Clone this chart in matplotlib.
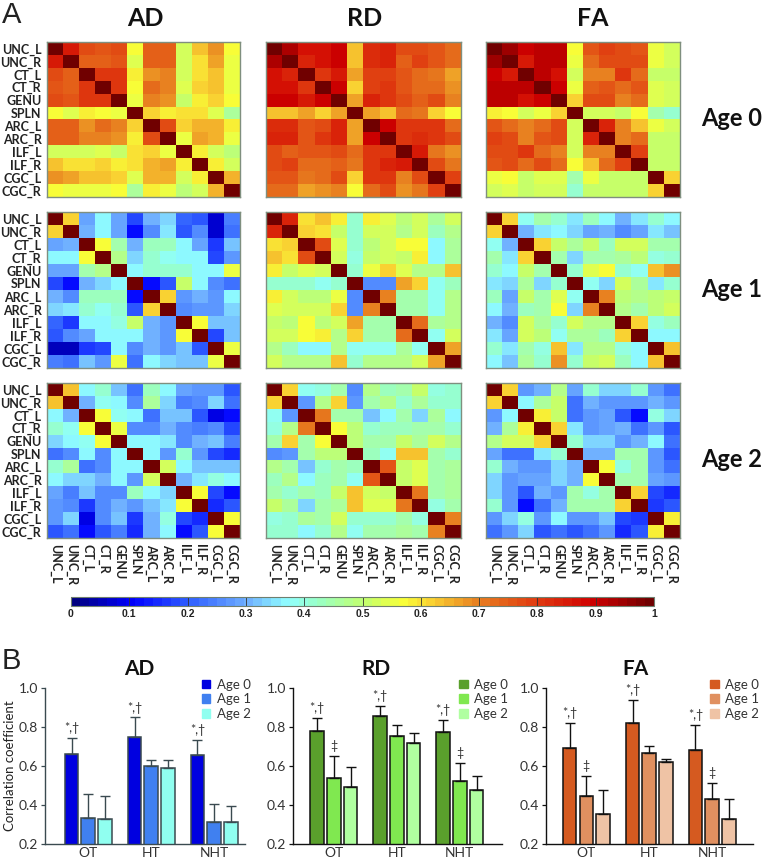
import numpy as np
import matplotlib
matplotlib.use('Agg')
import matplotlib.pyplot as plt
from matplotlib.colors import LinearSegmentedColormap
from matplotlib.patches import Patch

W, H = 762, 860
plt.rcParams['font.family'] = ['Lato', 'DejaVu Sans']

tracts = ['UNC_L', 'UNC_R', 'CT_L', 'CT_R', 'GENU', 'SPLN', 'ARC_L', 'ARC_R', 'ILF_L', 'ILF_R', 'CGC_L', 'CGC_R']

ad_age0 = [
    [1, .85, .78, .75, .78, .57, .74, .74, .52, .64, .68, .57],
    [.85, 1, .74, .74, .76, .54, .74, .74, .52, .60, .67, .56],
    [.78, .74, 1, .80, .80, .58, .68, .70, .52, .60, .64, .56],
    [.75, .74, .80, 1, .80, .57, .72, .69, .54, .62, .63, .56],
    [.78, .76, .80, .80, 1, .55, .70, .68, .51, .58, .62, .57],
    [.57, .54, .58, .57, .55, 1, .62, .58, .60, .60, .54, .46],
    [.74, .74, .68, .72, .70, .62, 1, .78, .61, .65, .65, .59],
    [.74, .74, .70, .69, .68, .58, .78, 1, .55, .67, .65, .56],
    [.52, .52, .52, .54, .51, .60, .61, .55, 1, .58, .53, .49],
    [.64, .60, .60, .62, .58, .60, .65, .67, .58, 1, .58, .53],
    [.68, .67, .64, .63, .62, .54, .65, .65, .53, .58, 1, .65],
    [.57, .56, .56, .56, .57, .46, .59, .56, .49, .53, .65, 1],
]
rd_age0 = [
    [1, .93, .86, .86, .90, .63, .82, .84, .77, .77, .76, .72],
    [.93, 1, .84, .86, .90, .63, .82, .84, .74, .79, .76, .72],
    [.86, .84, 1, .81, .85, .66, .79, .79, .75, .73, .71, .66],
    [.86, .86, .81, 1, .90, .61, .79, .80, .75, .73, .73, .68],
    [.90, .90, .85, .90, 1, .67, .83, .81, .77, .74, .77, .70],
    [.63, .63, .66, .61, .67, 1, .67, .64, .73, .71, .61, .57],
    [.82, .82, .76, .78, .83, .67, 1, .90, .80, .80, .80, .73],
    [.84, .84, .76, .80, .83, .66, .90, 1, .80, .82, .80, .78],
    [.77, .74, .75, .75, .77, .73, .80, .80, 1, .85, .71, .68],
    [.77, .79, .73, .73, .74, .71, .80, .84, .85, 1, .77, .71],
    [.76, .76, .71, .73, .77, .61, .80, .80, .70, .77, 1, .79],
    [.72, .72, .66, .68, .70, .57, .73, .78, .68, .71, .79, 1],
]
fa_age0 = [
    [1, .94, .90, .91, .91, .57, .76, .79, .78, .75, .55, .52],
    [.94, 1, .85, .91, .91, .56, .73, .78, .78, .77, .55, .53],
    [.90, .85, 1, .91, .86, .53, .70, .70, .80, .73, .51, .50],
    [.91, .91, .91, 1, .90, .56, .74, .75, .72, .76, .54, .52],
    [.91, .91, .86, .90, 1, .62, .77, .78, .69, .72, .54, .52],
    [.58, .57, .53, .56, .62, 1, .52, .52, .51, .57, .44, .42],
    [.76, .73, .69, .73, .77, .52, 1, .84, .69, .63, .55, .52],
    [.79, .78, .69, .75, .78, .52, .84, 1, .69, .72, .51, .50],
    [.78, .78, .80, .73, .69, .52, .70, .70, 1, .79, .51, .50],
    [.75, .77, .73, .77, .72, .57, .63, .72, .79, 1, .50, .50],
    [.56, .57, .51, .54, .54, .44, .55, .51, .51, .50, 1, .61],
    [.52, .54, .50, .52, .52, .42, .51, .50, .50, .50, .61, 1],
]
ad_age1 = [
    [1, .62, .29, .36, .29, .18, .31, .34, .21, .19, .07, .24],
    [.62, 1, .31, .36, .29, .12, .26, .35, .20, .25, .07, .23],
    [.29, .31, 1, .57, .44, .31, .43, .43, .36, .29, .17, .32],
    [.36, .36, .57, 1, .47, .33, .42, .38, .36, .36, .18, .28],
    [.29, .29, .44, .47, 1, .36, .41, .42, .41, .37, .36, .55],
    [.18, .12, .31, .33, .36, 1, .12, .19, .50, .36, .25, .22],
    [.31, .26, .43, .43, .43, .12, 1, .61, .28, .30, .28, .36],
    [.34, .35, .42, .38, .41, .19, .61, 1, .26, .28, .28, .34],
    [.21, .17, .36, .36, .40, .50, .31, .28, 1, .57, .32, .32],
    [.19, .25, .29, .36, .36, .36, .30, .28, .57, 1, .18, .32],
    [.05, .05, .17, .18, .36, .25, .30, .28, .32, .20, 1, .55],
    [.24, .23, .32, .28, .55, .22, .36, .34, .32, .32, .55, 1],
]
rd_age1 = [
    [1, .84, .60, .63, .58, .42, .58, .54, .49, .52, .46, .53],
    [.84, 1, .61, .60, .51, .42, .52, .52, .47, .53, .43, .47],
    [.60, .61, 1, .78, .54, .42, .49, .53, .57, .57, .37, .46],
    [.63, .60, .78, 1, .53, .40, .50, .52, .50, .58, .37, .46],
    [.58, .51, .54, .53, 1, .41, .55, .61, .54, .48, .47, .63],
    [.42, .42, .42, .39, .41, 1, .25, .25, .67, .62, .39, .43],
    [.58, .52, .49, .49, .55, .25, 1, .70, .44, .45, .38, .47],
    [.54, .52, .52, .52, .61, .25, .70, 1, .44, .45, .38, .47],
    [.50, .49, .57, .49, .52, .66, .44, .44, 1, .73, .46, .47],
    [.53, .52, .57, .58, .47, .62, .44, .44, .72, 1, .39, .52],
    [.47, .43, .36, .36, .47, .39, .38, .38, .46, .38, 1, .67],
    [.53, .47, .47, .47, .63, .42, .47, .47, .47, .52, .67, 1],
]
fa_age1 = [
    [1, .61, .38, .44, .42, .35, .43, .37, .31, .35, .42, .37],
    [.61, 1, .31, .35, .37, .33, .29, .31, .26, .29, .35, .32],
    [.38, .31, 1, .61, .50, .46, .50, .43, .52, .52, .44, .44],
    [.44, .35, .61, 1, .45, .34, .44, .44, .46, .49, .40, .42],
    [.42, .37, .50, .45, 1, .41, .54, .57, .41, .38, .64, .68],
    [.35, .33, .46, .34, .41, 1, .38, .33, .52, .46, .35, .42],
    [.43, .29, .50, .45, .54, .38, 1, .70, .49, .48, .49, .50],
    [.37, .31, .43, .44, .57, .33, .70, 1, .47, .45, .49, .52],
    [.31, .25, .52, .46, .41, .52, .48, .48, 1, .61, .40, .43],
    [.35, .29, .52, .49, .38, .46, .46, .43, .61, 1, .36, .36],
    [.42, .35, .44, .40, .64, .35, .47, .47, .40, .36, 1, .64],
    [.37, .32, .46, .42, .68, .42, .50, .52, .43, .36, .64, 1],
]
ad_age2 = [
    [1, .63, .36, .42, .32, .22, .43, .37, .29, .28, .28, .20],
    [.63, 1, .31, .38, .36, .25, .46, .34, .24, .26, .33, .22],
    [.36, .31, 1, .57, .38, .37, .23, .32, .32, .19, .09, .11],
    [.42, .38, .57, 1, .56, .25, .25, .30, .25, .24, .25, .18],
    [.33, .36, .38, .57, 1, .36, .36, .35, .25, .30, .32, .24],
    [.22, .25, .37, .25, .36, 1, .36, .27, .42, .28, .18, .15],
    [.42, .46, .23, .25, .36, .36, 1, .52, .36, .32, .32, .32],
    [.37, .34, .33, .30, .36, .28, .52, 1, .30, .35, .40, .37],
    [.29, .24, .32, .25, .25, .43, .36, .33, 1, .57, .18, .12],
    [.28, .26, .17, .25, .30, .28, .32, .35, .57, 1, .15, .19],
    [.28, .33, .09, .25, .32, .16, .31, .40, .18, .15, 1, .57],
    [.20, .22, .11, .19, .24, .15, .31, .37, .12, .19, .57, 1],
]
rd_age2 = [
    [1, .62, .39, .40, .45, .25, .47, .43, .45, .50, .40, .42],
    [.62, 1, .27, .47, .62, .27, .44, .47, .41, .46, .41, .42],
    [.39, .27, 1, .71, .44, .44, .32, .37, .44, .33, .46, .36],
    [.40, .47, .71, 1, .57, .49, .42, .43, .43, .44, .44, .41],
    [.45, .62, .44, .57, 1, .49, .45, .45, .50, .46, .53, .47],
    [.25, .27, .44, .49, .49, 1, .43, .39, .63, .63, .45, .41],
    [.47, .44, .32, .42, .45, .43, 1, .75, .51, .54, .44, .46],
    [.43, .47, .37, .43, .45, .39, .75, 1, .50, .54, .44, .46],
    [.45, .41, .44, .43, .50, .63, .52, .50, 1, .71, .44, .46],
    [.50, .46, .33, .44, .46, .63, .54, .54, .71, 1, .40, .45],
    [.40, .41, .46, .44, .53, .42, .42, .42, .44, .40, 1, .70],
    [.42, .42, .36, .41, .47, .38, .44, .44, .46, .44, .70, 1],
]
fa_age2 = [
    [1, .62, .28, .31, .48, .29, .41, .33, .33, .41, .28, .23],
    [.62, 1, .36, .46, .51, .22, .31, .27, .27, .27, .31, .28],
    [.28, .36, 1, .59, .51, .22, .28, .29, .19, .12, .40, .34],
    [.31, .46, .59, 1, .62, .35, .27, .29, .30, .22, .28, .19],
    [.48, .53, .53, .62, 1, .42, .33, .34, .28, .31, .37, .23],
    [.29, .22, .22, .35, .42, 1, .30, .30, .45, .45, .28, .19],
    [.41, .31, .28, .27, .33, .30, 1, .57, .40, .44, .27, .23],
    [.33, .27, .29, .29, .34, .30, .57, 1, .44, .45, .29, .27],
    [.33, .27, .19, .30, .28, .45, .40, .44, 1, .62, .18, .15],
    [.41, .27, .12, .22, .31, .45, .44, .45, .62, 1, .17, .20],
    [.28, .33, .40, .28, .37, .28, .27, .32, .18, .17, 1, .58],
    [.23, .28, .34, .19, .23, .19, .23, .27, .15, .20, .58, 1],
]

groups = ['OT', 'HT', 'NHT']
ages = ['Age 0', 'Age 1', 'Age 2']

ad_means = [[.66, .335, .33], [.75, .60, .59], [.655, .315, .315]]
ad_tops = [[.745, .455, .445], [.85, .63, .63], [.735, .405, .395]]
rd_means = [[.78, .54, .49], [.855, .755, .72], [.775, .525, .475]]
rd_tops = [[.845, .65, .595], [.91, .81, .77], [.835, .615, .55]]
fa_means = [[.69, .445, .355], [.82, .665, .62], [.68, .43, .33]]
fa_tops = [[.82, .55, .475], [.94, .705, .635], [.81, .515, .43]]

# (group, age, mark) for the significance signs over the bars
ad_marks = [(0, 0, '*,†'), (1, 0, '*,†'), (2, 0, '*,†')]
rd_marks = ad_marks + [(0, 1, '‡'), (2, 1, '‡')]
fa_marks = rd_marks

cmap = LinearSegmentedColormap.from_list('fig', [
    (0.0, '#000080'), (0.1, '#0000ff'), (0.2, '#3060ff'), (0.3, '#70b0ff'),
    (0.37, '#90ffff'), (0.42, '#98ffc8'), (0.5, '#c0ff70'), (0.57, '#f8ff38'),
    (0.62, '#fad232'), (0.7, '#e88020'), (0.8, '#e03c10'), (0.9, '#d00000'),
    (1.0, '#700000')], N=64)

fig = plt.figure(figsize=(W / 100, H / 100), dpi=100)


def px_axes(x0, y0, x1, y1):
    return fig.add_axes([x0 / W, 1 - y1 / H, (x1 - x0) / W, (y1 - y0) / H])


def px_text(x, y, s, **kw):
    kw.setdefault('ha', 'center')
    kw.setdefault('va', 'center')
    fig.text(x / W, 1 - y / H, s, **kw)


def draw_matrix(box, values, left, bottom):
    ax = px_axes(*box)
    im = ax.imshow(values, cmap=cmap, vmin=0, vmax=1, aspect='auto', interpolation='nearest')
    ax.set_xticks(range(12))
    ax.set_yticks(range(12))
    ax.set_xticks(range(1, 12, 2), minor=True)
    ax.set_yticks(range(1, 12, 2), minor=True)
    ax.tick_params(which='major', length=0, pad=4)
    ax.tick_params(which='minor', length=1.5, width=0.6, color='#444444', direction='in',
                   top=True, right=True)
    ax.set_xticklabels(tracts if bottom else [], rotation=270, fontsize=9, fontweight='bold', color='#222222')
    ax.set_yticklabels(tracts if left else [], fontsize=9, fontweight='bold', color='#222222')
    for s in ax.spines.values():
        s.set_color('#7f8f7f')
        s.set_linewidth(1)
    return im


def draw_bars(x0, x1, left, right, means, tops, colors, marks, edge, title, title_x):
    ax = px_axes(x0, 688, x1, 844)
    means = np.array(means)
    tops = np.array(tops)
    for a in range(3):
        xs = np.arange(3) + (a - 1) * 0.265
        ax.bar(xs, means[:, a], width=0.215, color=colors[a], edgecolor=edge, linewidth=1.1)
        ax.errorbar(xs, means[:, a], yerr=[np.zeros(3), tops[:, a] - means[:, a]], fmt='none',
                    ecolor=edge, elinewidth=1, capsize=3.3, capthick=1)
    for g, a, m in marks:
        ax.text(g + (a - 1) * 0.265, tops[g, a] + 0.05, m, ha='center', va='center',
                fontsize=9, color='#333333')
    ax.set_xlim(left, right)
    ax.set_ylim(0.2, 1.0)
    ax.set_xticks(range(3))
    ax.set_xticklabels(groups, fontsize=10, color='#333333')
    ax.set_yticks([0.2, 0.4, 0.6, 0.8, 1.0])
    ax.set_yticklabels(['0.2', '0.4', '0.6', '0.8', '1.0'], fontsize=10, color='#333333')
    ax.tick_params(axis='x', length=0, pad=2)
    ax.tick_params(axis='y', length=3, width=0.9, color=edge, pad=2)
    ax.spines[['top', 'right']].set_visible(False)
    ax.spines[['left', 'bottom']].set_color(edge)
    ax.spines[['left', 'bottom']].set_linewidth(1)
    ax.legend(handles=[Patch(color=c, label=l) for c, l in zip(colors, ages)], loc='upper right',
              bbox_to_anchor=(1.03, 1.06), frameon=False, fontsize=9.5, labelcolor='#333333',
              handlelength=0.65, handleheight=0.65, handletextpad=0.5, labelspacing=0.2,
              borderpad=0, borderaxespad=0)
    px_text(title_x, 669, title, fontsize=15, fontweight='bold', color='#111111')
    return ax


col_x = [(47, 240), (266, 461), (486, 680)]
row_y = [(42, 197), (212, 368), (383, 538)]
matrices = [
    [ad_age0, rd_age0, fa_age0],
    [ad_age1, rd_age1, fa_age1],
    [ad_age2, rd_age2, fa_age2],
]

for r, (y0, y1) in enumerate(row_y):
    for c, (x0, x1) in enumerate(col_x):
        im = draw_matrix((x0, y0, x1, y1), matrices[r][c], c == 0, r == 2)

for x, name in zip([145, 365, 593], ['AD', 'RD', 'FA']):
    px_text(x, 18, name, fontsize=18, fontweight='bold', color='#111111')
for y, name in zip([118, 290, 460], ages):
    px_text(701, y, name, ha='left', fontsize=17, fontweight='bold', color='#111111')

px_text(2, 15, 'A', ha='left', fontsize=21, family='Liberation Sans', color='#222222')
px_text(2, 661, 'B', ha='left', fontsize=21, family='Liberation Sans', color='#222222')

cax = px_axes(71, 597, 654, 606)
cb = fig.colorbar(im, cax=cax, orientation='horizontal')
cb.set_ticks(np.arange(0, 1.01, 0.1))
cb.set_ticklabels(['0', '0.1', '0.2', '0.3', '0.4', '0.5', '0.6', '0.7', '0.8', '0.9', '1'],
                  fontsize=7.5, fontweight='bold', family='Liberation Sans', color='#222222')
cax.tick_params(direction='in', length=6.5, width=0.6, color='#333333', pad=2.5)
cb.outline.set_edgecolor('#6f7f6f')
cb.outline.set_linewidth(0.8)

ad_ax = draw_bars(45, 245, -0.687, 2.49, ad_means, ad_tops, ['#0000e0', '#4080f0', '#90fff0'],
                  ad_marks, '#3a4a50', 'AD', 139)
ad_ax.set_ylabel('Correlation coefficient', fontsize=9.5, color='#222222', labelpad=2)
draw_bars(293, 502, -0.65, 2.67, rd_means, rd_tops, ['#5aa02c', '#80e850', '#b0ffa0'],
          rd_marks, '#111111', 'RD', 376)
draw_bars(546, 753, -0.64, 2.65, fa_means, fa_tops, ['#d55a20', '#e09060', '#efc3a5'],
          fa_marks, '#111111', 'FA', 636)

fig.savefig('out.png', dpi=100)
